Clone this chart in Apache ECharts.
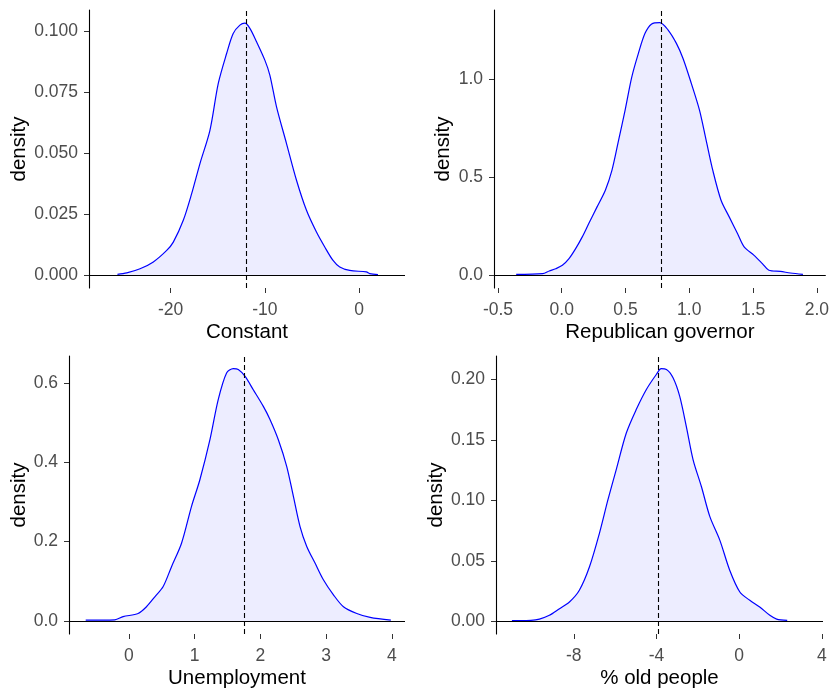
<!DOCTYPE html>
<html>
<head>
<meta charset="utf-8">
<script src="https://cdn.jsdelivr.net/npm/echarts@6/dist/echarts.min.js"></script>
<style>html,body{margin:0;padding:0;background:#fff}#c{width:832px;height:691px}</style>
</head>
<body>
<div id="c"></div>
<script>
// ---- Data ----
const panelNames = ['Constant', 'Republican governor', 'Unemployment', '% old people'];

const constantX = [-25.65,-24.66,-23.25,-21.84,-20.42,-19.72,-18.66,-17.77,-16.89,-15.83,-14.95,-14.06,-13.36,-12.65,-12.12,-11.59,-10.88,-10.0,-9.47,-8.76,-7.70,-6.64,-5.58,-4.52,-3.64,-2.76,-2.05,-0.99,0.78,1.13,2.01];
const constantY = [0.0004,0.001,0.0027,0.0055,0.0102,0.0136,0.0225,0.0334,0.0457,0.0593,0.0784,0.0907,0.0989,0.1023,0.1031,0.101,0.0955,0.088,0.0819,0.0689,0.0539,0.0389,0.0266,0.0177,0.0116,0.0061,0.0034,0.002,0.0014,0.0007,0.0003];
const constantMean = -12.0;
const constantXTicks = [-20, -10, 0];
const constantYTicks = [0, 0.025, 0.05, 0.075, 0.1];

const governorX = [-0.357,-0.150,-0.098,-0.047,0.005,0.057,0.109,0.161,0.212,0.277,0.342,0.394,0.446,0.497,0.549,0.601,0.653,0.705,0.769,0.834,0.899,0.951,1.016,1.080,1.132,1.184,1.249,1.313,1.378,1.430,1.508,1.573,1.624,1.715,1.793,1.891];
const governorY = [0.005,0.0085,0.022,0.034,0.051,0.085,0.136,0.196,0.264,0.349,0.434,0.536,0.689,0.842,1.010,1.131,1.233,1.281,1.288,1.25,1.182,1.105,0.978,0.842,0.689,0.536,0.383,0.298,0.213,0.145,0.102,0.060,0.026,0.020,0.012,0.005];
const governorMean = 0.775;
const governorXTicks = [-0.5, 0, 0.5, 1, 1.5, 2];
const governorYTicks = [0, 0.5, 1];

const unempX = [-0.655,-0.213,-0.086,0.142,0.269,0.396,0.523,0.650,0.802,0.954,1.081,1.234,1.360,1.487,1.589,1.665,1.766,1.893,2.046,2.147,2.274,2.401,2.503,2.604,2.706,2.832,2.959,3.112,3.264,3.467,3.670,3.985];
const unempY = [0.002,0.003,0.011,0.019,0.036,0.061,0.087,0.137,0.196,0.289,0.356,0.457,0.558,0.625,0.636,0.634,0.617,0.583,0.541,0.508,0.457,0.390,0.314,0.238,0.188,0.146,0.104,0.066,0.036,0.019,0.009,0.002];
const unempMean = 1.746;
const unempXTicks = [0, 1, 2, 3, 4];
const unempYTicks = [0, 0.2, 0.4, 0.6];

const oldX = [-10.99,-10.63,-10.07,-9.66,-9.18,-8.69,-8.21,-7.73,-7.24,-6.76,-6.35,-5.95,-5.46,-4.98,-4.49,-4.01,-3.77,-3.52,-3.20,-2.88,-2.56,-2.23,-1.83,-1.42,-0.94,-0.46,0.03,0.51,0.99,1.48,1.81,2.32];
const oldY = [0.0006,0.0006,0.0008,0.0019,0.005,0.0105,0.016,0.0257,0.0451,0.0728,0.1004,0.1253,0.1557,0.1751,0.1917,0.2041,0.2089,0.2083,0.2014,0.1862,0.1613,0.1336,0.1115,0.0866,0.0672,0.0423,0.0243,0.0174,0.0119,0.005,0.0019,0.0008];
const oldMean = -3.92;
const oldXTicks = [-8, -4, 0, 4];
const oldYTicks = [0, 0.05, 0.1, 0.15, 0.2];

// ---- Layout ----
const panels = [
  {x: constantX, y: constantY, mean: constantMean, xt: constantXTicks, yt: constantYTicks, xd: 0, yd: 3,
   grid: {left: 89, top: 10, width: 316, height: 278}, xr: [-28.67, 4.88], yr: [-0.00517, 0.1085], yGap: 58},
  {x: governorX, y: governorY, mean: governorMean, xt: governorXTicks, yt: governorYTicks, xd: 1, yd: 1,
   grid: {left: 494, top: 10, width: 335, height: 278}, xr: [-0.531, 2.07], yr: [-0.0644, 1.352], yGap: 40},
  {x: unempX, y: unempY, mean: unempMean, xt: unempXTicks, yt: unempYTicks, xd: 0, yd: 1,
   grid: {left: 69, top: 356, width: 336, height: 278}, xr: [-0.909, 4.2], yr: [-0.0328, 0.668], yGap: 38},
  {x: oldX, y: oldY, mean: oldMean, xt: oldXTicks, yt: oldYTicks, xd: 0, yd: 2,
   grid: {left: 496, top: 356, width: 327, height: 278}, xr: [-11.76, 4.05], yr: [-0.01045, 0.2194], yGap: 48}
];

const FONT = '"Liberation Sans", Arial, sans-serif';
const grids = [], xAxes = [], yAxes = [], series = [];
panels.forEach((p, i) => {
  grids.push(Object.assign({containLabel: false}, p.grid));
  xAxes.push({
    type: 'value', gridIndex: i, min: p.xr[0], max: p.xr[1],
    name: panelNames[i], nameLocation: 'middle', nameGap: 34,
    nameTextStyle: {color: '#000', fontSize: 20.5, fontFamily: FONT},
    axisLine: {show: false, onZero: false},
    axisTick: {show: true, inside: false, length: 5, customValues: p.xt, lineStyle: {color: '#333', width: 1}},
    axisLabel: {customValues: p.xt, margin: 13, color: '#4D4D4D', fontSize: 17.5, fontFamily: FONT,
      formatter: v => Number(v).toFixed(p.xd)},
    splitLine: {show: false}
  });
  yAxes.push({
    type: 'value', gridIndex: i, min: p.yr[0], max: p.yr[1],
    name: 'density', nameLocation: 'middle', nameGap: p.yGap, nameRotate: 90,
    nameTextStyle: {color: '#000', fontSize: 20.5, fontFamily: FONT},
    axisLine: {show: true, onZero: false, lineStyle: {color: '#000', width: 1.1}},
    axisTick: {show: true, inside: false, length: 5, customValues: p.yt, lineStyle: {color: '#333', width: 1}},
    axisLabel: {customValues: p.yt, margin: 11, color: '#4D4D4D', fontSize: 17.5, fontFamily: FONT,
      formatter: v => Number(v).toFixed(p.yd)},
    splitLine: {show: false}
  });
  series.push({
    type: 'line', xAxisIndex: i, yAxisIndex: i,
    data: p.x.map((v, k) => [v, p.y[k]]),
    showSymbol: false, smooth: 0.3,
    lineStyle: {color: '#0000FF', width: 1.2},
    areaStyle: {color: 'rgba(0,0,255,0.1)', origin: 0},
    silent: true,
    markLine: {
      silent: true, symbol: 'none', label: {show: false},
      data: [
        {yAxis: 0, lineStyle: {color: '#000', type: 'solid', width: 1.1}},
        {xAxis: p.mean, lineStyle: {color: '#000', type: [5, 3], width: 1.1}}
      ]
    }
  });
});

const chart = echarts.init(document.getElementById('c'), null, {renderer: 'canvas'});
chart.setOption({
  animation: false,
  backgroundColor: '#fff',
  grid: grids, xAxis: xAxes, yAxis: yAxes, series: series
});
</script>
</body>
</html>
